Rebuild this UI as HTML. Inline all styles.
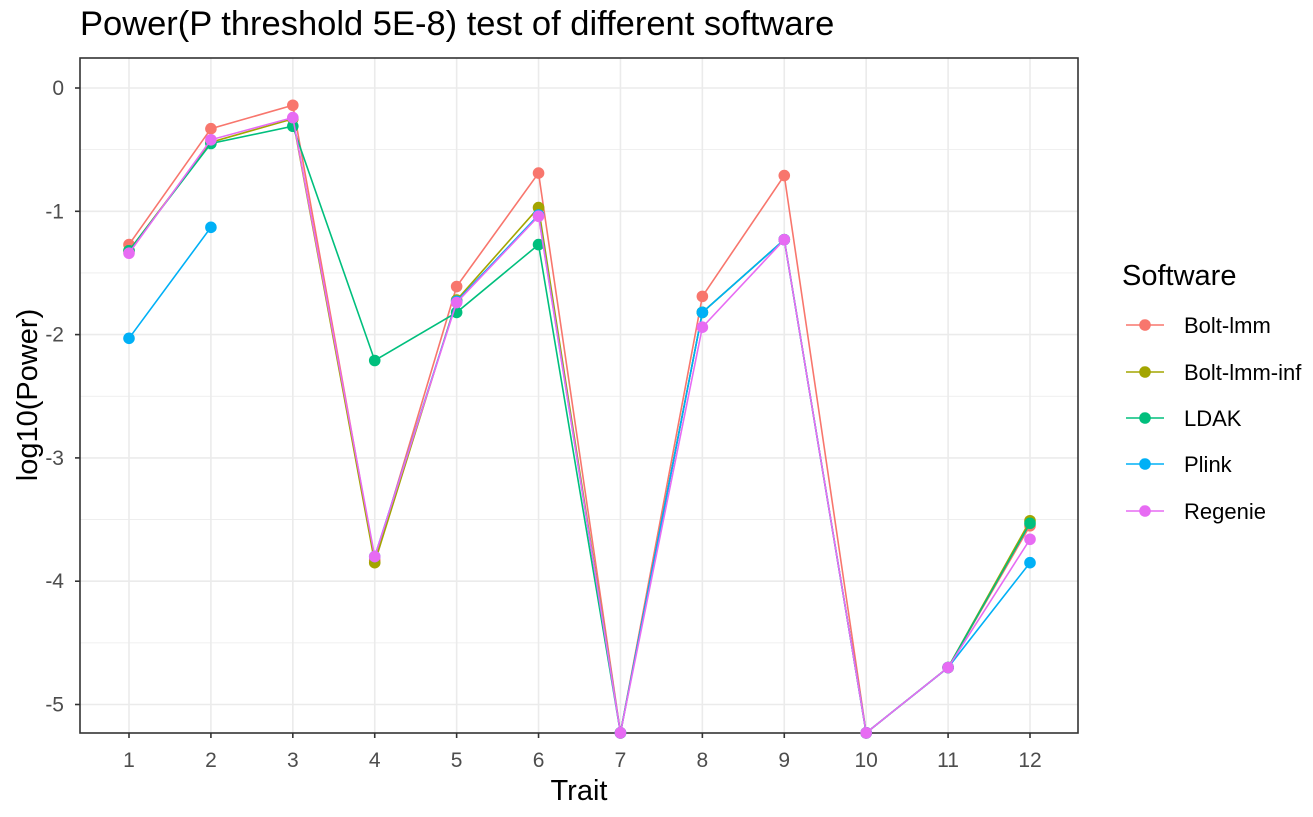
<!DOCTYPE html>
<html><head><meta charset="utf-8"><style>body{margin:0;background:#fff}svg{display:block;font-family:"Liberation Sans",sans-serif}</style></head>
<body>
<svg id="c" width="1313" height="817"></svg>
<script>
const categories=["1","2","3","4","5","6","7","8","9","10","11","12"];
const seriesNames=["Bolt-lmm","Bolt-lmm-inf","LDAK","Plink","Regenie"];
const colors=["#F8766D","#A3A500","#00BF7D","#00B0F6","#E76BF3"];
const boltLmm=[-1.27,-0.33,-0.14,-3.83,-1.61,-0.69,-5.23,-1.69,-0.71,-5.23,-4.70,-3.55];
const boltLmmInf=[-1.32,-0.44,-0.25,-3.85,-1.72,-0.97,-5.23,-1.82,-1.23,-5.23,-4.70,-3.51];
const ldak=[-1.32,-0.45,-0.31,-2.21,-1.82,-1.27,-5.23,-1.82,-1.23,-5.23,-4.70,-3.53];
const plink=[-2.03,-1.13,null,-3.80,-1.73,-1.03,-5.23,-1.82,-1.23,-5.23,-4.70,-3.85];
const regenie=[-1.34,-0.42,-0.24,-3.80,-1.74,-1.04,-5.23,-1.94,-1.23,-5.23,-4.70,-3.66];
const yTicks=[0,-1,-2,-3,-4,-5];
const series=[boltLmm,boltLmmInf,ldak,plink,regenie];
const svg=document.getElementById('c');const NS='http://www.w3.org/2000/svg';
function mk(t,a,p){const e=document.createElementNS(NS,t);for(const k in a)e.setAttribute(k,a[k]);(p||svg).appendChild(e);return e;}
const L=80,R=1078,T=58,B=733;
const x=i=>129+i*(1030-129)/11;
const y=v=>88-v*123.3;
const grid=mk('g',{});

for(let v=0.5;v>-5.3;v-=0.5){const yy=y(v);if(yy<T||yy>B)continue;mk('line',{x1:L,x2:R,y1:yy,y2:yy,stroke:'#ebebeb','stroke-width':Number.isInteger(v)?1.6:0.8},grid);}
categories.forEach((c,i)=>{mk('line',{x1:x(i),x2:x(i),y1:T,y2:B,stroke:'#ebebeb','stroke-width':1.6},grid);});
const frame=mk('rect',{x:L,y:T,width:R-L,height:B-T,fill:'none',stroke:'#333','stroke-width':1.6});

const yax=mk('g',{});
yTicks.forEach(v=>{mk('line',{x1:L-5,x2:L,y1:y(v),y2:y(v),stroke:'#333','stroke-width':1.6},yax);const t=mk('text',{x:L-16,y:y(v)+7,'text-anchor':'end','font-size':21,fill:'#4d4d4d'},yax);t.textContent=v;});
const xax=mk('g',{});
categories.forEach((c,i)=>{mk('line',{x1:x(i),x2:x(i),y1:B,y2:B+5,stroke:'#333','stroke-width':1.6},xax);const t=mk('text',{x:x(i),y:767,'text-anchor':'middle','font-size':21,fill:'#4d4d4d'},xax);t.textContent=c;});
series.forEach((s,k)=>{const g=mk('g',{});


let d='',pen=false;s.forEach((v,i)=>{if(v===null){pen=false;return;}d+=(pen?'L':'M')+x(i)+' '+y(v)+' ';pen=true;});
mk('path',{d:d,fill:'none',stroke:colors[k],'stroke-width':1.6},g);
s.forEach((v,i)=>{if(v===null)return;const p=mk('circle',{cx:x(i),cy:y(v),r:5.8,fill:colors[k]},g);

});});
</script>
<div style="position:absolute;left:0;top:0">
<svg width="1313" height="817" style="position:absolute;left:0;top:0;pointer-events:none">
<text x="80" y="35" font-size="34.5" fill="#000">Power(P threshold 5E-8) test of different software</text>
<text x="579" y="800" text-anchor="middle" font-size="29" fill="#000">Trait</text>
<text transform="translate(37,395) rotate(-90)" text-anchor="middle" font-size="29" fill="#000">log10(Power)</text>
<g font-size="22">
<text x="1122" y="285" font-size="29" fill="#000">Software</text>
<g><line x1="1126" x2="1164" y1="325" y2="325" stroke="#F8766D" stroke-width="1.6"/><circle cx="1145" cy="325" r="5.8" fill="#F8766D"/><text x="1184" y="333">Bolt-lmm</text></g>
<g><line x1="1126" x2="1164" y1="372" y2="372" stroke="#A3A500" stroke-width="1.6"/><circle cx="1145" cy="372" r="5.8" fill="#A3A500"/><text x="1184" y="380">Bolt-lmm-inf</text></g>
<g><line x1="1126" x2="1164" y1="418" y2="418" stroke="#00BF7D" stroke-width="1.6"/><circle cx="1145" cy="418" r="5.8" fill="#00BF7D"/><text x="1184" y="426">LDAK</text></g>
<g><line x1="1126" x2="1164" y1="464" y2="464" stroke="#00B0F6" stroke-width="1.6"/><circle cx="1145" cy="464" r="5.8" fill="#00B0F6"/><text x="1184" y="472">Plink</text></g>
<g><line x1="1126" x2="1164" y1="511" y2="511" stroke="#E76BF3" stroke-width="1.6"/><circle cx="1145" cy="511" r="5.8" fill="#E76BF3"/><text x="1184" y="519">Regenie</text></g>
</g>
</svg></div>
</body></html>
